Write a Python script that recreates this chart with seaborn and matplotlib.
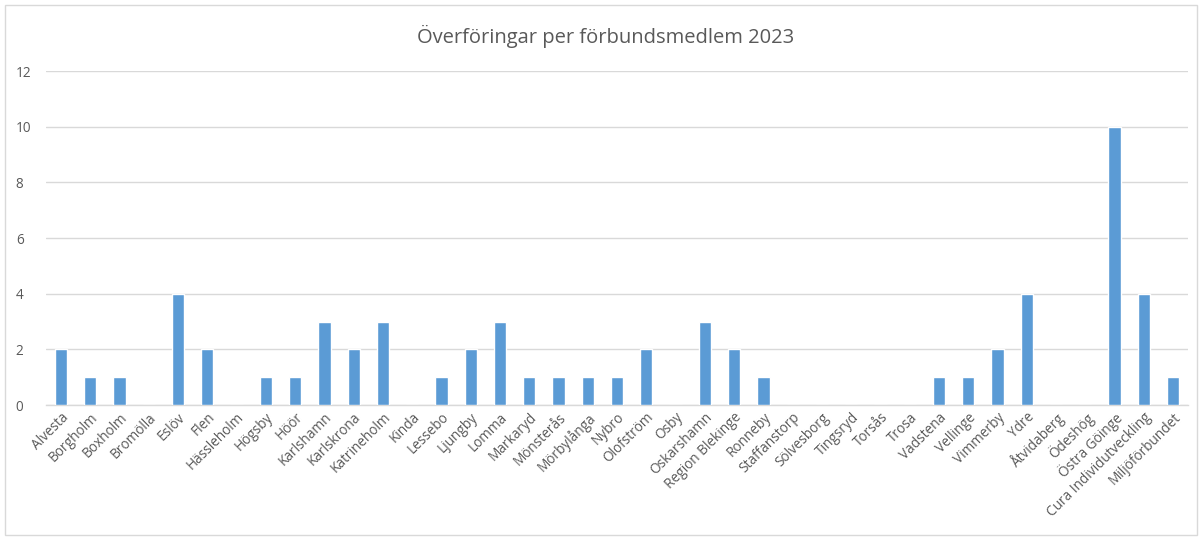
import matplotlib
matplotlib.use('Agg')
import matplotlib.pyplot as plt
import seaborn as sns
import pandas as pd

# Data
members = ['Alvesta', 'Borgholm', 'Boxholm', 'Bromölla', 'Eslöv', 'Flen', 'Hässleholm',
           'Högsby', 'Höör', 'Karlshamn', 'Karlskrona', 'Katrineholm', 'Kinda', 'Lessebo',
           'Ljungby', 'Lomma', 'Markaryd', 'Mönsterås', 'Mörbylånga', 'Nybro', 'Olofström',
           'Osby', 'Oskarshamn', 'Region Blekinge', 'Ronneby', 'Staffanstorp', 'Sölvesborg',
           'Tingsryd', 'Torsås', 'Trosa', 'Vadstena', 'Vellinge', 'Vimmerby', 'Ydre',
           'Åtvidaberg', 'Ödeshög', 'Östra Göinge', 'Cura Individutveckling', 'Miljöförbundet']
transfers = [2, 1, 1, 0, 4, 2, 0, 1, 1, 3, 2, 3, 0, 1, 2, 3, 1, 1, 1, 1, 2,
             0, 3, 2, 1, 0, 0, 0, 0, 0, 1, 1, 2, 4, 0, 0, 10, 4, 1]

df = pd.DataFrame({'member': members, 'transfers': transfers})

sns.set_style('white')
plt.rcParams['font.family'] = ['Open Sans', 'DejaVu Sans']
text_color = '#595959'

fig = plt.figure(figsize=(12.04, 5.38), dpi=100)
ax = fig.add_axes([0.0385, 0.247, 0.948, 0.621])

sns.barplot(data=df, x='member', y='transfers', color='#5B9BD5', width=0.42,
            saturation=1, ax=ax, zorder=3)

ax.set_ylim(0, 12)
ax.set_yticks(range(0, 13, 2))
ax.set_xlim(-0.5, len(members) - 0.5)
ax.yaxis.grid(True, color='#D9D9D9', linewidth=1, zorder=0)
ax.set_axisbelow(True)
for side in ['top', 'right', 'left']:
    ax.spines[side].set_visible(False)
ax.spines['bottom'].set_color('#D9D9D9')
ax.spines['bottom'].set_linewidth(1)

ax.set_xlabel('')
ax.set_ylabel('')
ax.tick_params(axis='both', length=0, colors=text_color, labelsize=9.8)
ax.tick_params(axis='y', pad=22)
plt.setp(ax.get_xticklabels(), rotation=45, ha='right', rotation_mode='anchor')
for lbl in ax.get_yticklabels():
    lbl.set_horizontalalignment('left')

fig.text(0.503, 0.932, 'Överföringar per förbundsmedlem 2023', ha='center', va='center',
         fontsize=14.5, color=text_color)

# light frame around the chart area
frame = plt.Rectangle((0.004, 0.006), 0.99, 0.985, transform=fig.transFigure,
                      fill=False, edgecolor='#D9D9D9', linewidth=1)
fig.add_artist(frame)

plt.savefig('out.png', dpi=100)
